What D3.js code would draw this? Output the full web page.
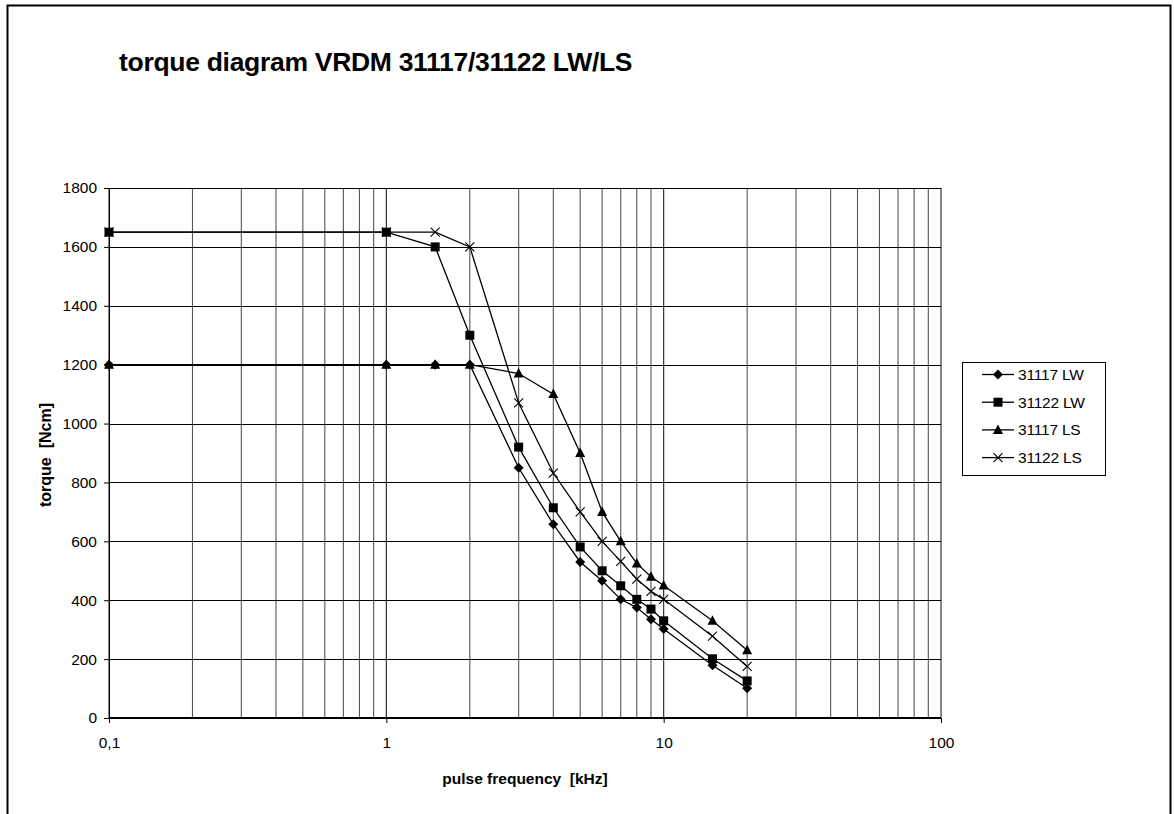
<!DOCTYPE html>
<html>
<head>
<meta charset="utf-8">
<script src="https://cdn.jsdelivr.net/npm/d3@7/dist/d3.min.js"></script>
<style>
  html, body { margin: 0; padding: 0; background: #fff; }
  svg { display: block; font-family: "Liberation Sans", Arial, sans-serif; }
  text { white-space: pre; }
</style>
</head>
<body>
<svg id="chart" width="1174" height="814"></svg>
<script>
// ---- data ----
const frequencies = [0.1, 1, 1.5, 2, 3, 4, 5, 6, 7, 8, 9, 10, 15, 20];
const seriesNames = ["31117 LW", "31122 LW", "31117 LS", "31122 LS"];
const torque31117LW = [1200, 1200, 1200, 1200, 850, 658, 530, 466, 403, 375, 335, 302, 179, 101];
const torque31122LW = [1650, 1650, 1600, 1300, 920, 714, 581, 500, 449, 403, 370, 330, 201, 126];
const torque31117LS = [1200, 1200, 1200, 1200, 1170, 1100, 900, 700, 600, 525, 480, 450, 330, 230];
const torque31122LS = [1650, 1650, 1650, 1600, 1070, 832, 700, 600, 532, 472, 430, 403, 278, 175];
const markerTypes = ["diamond", "square", "triangle", "cross"];
const yTicks = [0, 200, 400, 600, 800, 1000, 1200, 1400, 1600, 1800];
const xMajorTicks = [0.1, 1, 10, 100];
const xTickLabels = ["0,1", "1", "10", "100"];
const titleText = "torque diagram VRDM 31117/31122 LW/LS";
const xTitle = "pulse frequency  [kHz]";
const yTitle = "torque  [Ncm]";

const allSeries = [torque31117LW, torque31122LW, torque31117LS, torque31122LS];

// ---- layout ----
const svg = d3.select("#chart");
const W = 1174, H = 814;
const plot = { left: 109, right: 941, top: 188, bottom: 718 };

svg.append("rect").attr("width", W).attr("height", H).attr("fill", "#fff");
// outer frame (bottom edge cut off)
svg.append("rect")
  .attr("x", 7.5).attr("y", 5.5).attr("width", 1163).attr("height", 900)
  .attr("fill", "none").attr("stroke", "#000").attr("stroke-width", 2);

const x = d3.scaleLog().domain([0.1, 100]).range([plot.left, plot.right]);
const y = d3.scaleLinear().domain([0, 1800]).range([plot.bottom, plot.top]);

// title
svg.append("text")
  .attr("x", 119).attr("y", 71)
  .attr("font-size", 26.5).attr("font-weight", "bold")
  .attr("letter-spacing", -0.3)
  .text(titleText);

// vertical grid (every log subdivision)
const minorVals = [];
[0.1, 1, 10].forEach(d => { for (let k = 1; k <= 9; k++) minorVals.push(d * k); });
minorVals.push(100);
const gGrid = svg.append("g");
gGrid.selectAll("line.v").data(minorVals).enter().append("line")
  .attr("x1", d => x(d)).attr("x2", d => x(d))
  .attr("y1", plot.top).attr("y2", plot.bottom)
  .attr("stroke", d => (xMajorTicks.includes(d) ? "#222" : "#555"))
  .attr("stroke-width", 1.1);

// horizontal grid
gGrid.selectAll("line.h").data(yTicks).enter().append("line")
  .attr("x1", plot.left).attr("x2", plot.right)
  .attr("y1", d => Math.round(y(d)) + 0.5).attr("y2", d => Math.round(y(d)) + 0.5)
  .attr("stroke", "#000").attr("stroke-width", 1);

// y axis
const yAxis = d3.axisLeft(y).tickValues(yTicks).tickFormat(d3.format("d")).tickSize(5).tickPadding(7);
const gy = svg.append("g").attr("transform", `translate(${plot.left},0)`).call(yAxis);
gy.select(".domain").remove();
gy.selectAll(".tick line").attr("stroke", "#000");
gy.selectAll(".tick text").attr("font-size", 15.5).attr("font-family", "Liberation Sans, Arial, sans-serif").attr("fill", "#000");
svg.append("line").attr("x1", plot.left + 0.5).attr("x2", plot.left + 0.5)
  .attr("y1", plot.top).attr("y2", plot.bottom).attr("stroke", "#000").attr("stroke-width", 1);

// x axis
const xAxis = d3.axisBottom(x).tickValues(xMajorTicks)
  .tickFormat((d, i) => xTickLabels[i]).tickSize(5).tickPadding(14);
const gx = svg.append("g").attr("transform", `translate(0,${plot.bottom})`).call(xAxis);
gx.select(".domain").remove();
gx.selectAll(".tick line").attr("stroke", "#000");
gx.selectAll(".tick text").attr("font-size", 15.5).attr("font-family", "Liberation Sans, Arial, sans-serif").attr("fill", "#000");
svg.append("line").attr("x1", plot.left).attr("x2", plot.right)
  .attr("y1", plot.bottom).attr("y2", plot.bottom).attr("stroke", "#000").attr("stroke-width", 2);

// axis titles
svg.append("text")
  .attr("x", (plot.left + plot.right) / 2).attr("y", 784)
  .attr("text-anchor", "middle").attr("font-size", 15.5).attr("font-weight", "bold")
  .text(xTitle);
svg.append("text")
  .attr("transform", `translate(51,${(plot.top + plot.bottom) / 2 + 2}) rotate(-90)`)
  .attr("text-anchor", "middle").attr("font-size", 16).attr("font-weight", "bold")
  .text(yTitle);

// markers
function drawMarker(g, type, cx, cy) {
  if (type === "diamond") {
    g.append("path").attr("d", `M${cx},${cy - 5}L${cx + 5},${cy}L${cx},${cy + 5}L${cx - 5},${cy}Z`).attr("fill", "#000");
  } else if (type === "square") {
    g.append("rect").attr("x", cx - 4.5).attr("y", cy - 4.5).attr("width", 9).attr("height", 9).attr("fill", "#000");
  } else if (type === "triangle") {
    g.append("path").attr("d", `M${cx},${cy - 5.5}L${cx + 5},${cy + 4}L${cx - 5},${cy + 4}Z`).attr("fill", "#000");
  } else {
    g.append("path").attr("d", `M${cx - 4.5},${cy - 4.5}L${cx + 4.5},${cy + 4.5}M${cx - 4.5},${cy + 4.5}L${cx + 4.5},${cy - 4.5}`)
      .attr("stroke", "#000").attr("stroke-width", 1.1).attr("fill", "none");
  }
}

const line = d3.line().x(d => x(d[0])).y(d => y(d[1]));
const gSeries = svg.append("g");
allSeries.forEach((vals, i) => {
  const pts = frequencies.map((f, j) => [f, vals[j]]);
  gSeries.append("path").datum(pts).attr("d", line)
    .attr("fill", "none").attr("stroke", "#000").attr("stroke-width", 1.3);
});
allSeries.forEach((vals, i) => {
  const g = gSeries.append("g");
  frequencies.forEach((f, j) => drawMarker(g, markerTypes[i], x(f), y(vals[j])));
});

// legend
const lg = svg.append("g");
lg.append("rect").attr("x", 962.5).attr("y", 362.5).attr("width", 143).attr("height", 113)
  .attr("fill", "#fff").attr("stroke", "#000").attr("stroke-width", 1);
seriesNames.forEach((name, i) => {
  const cy = 374.5 + i * 27.7;
  lg.append("line").attr("x1", 982).attr("x2", 1014).attr("y1", cy).attr("y2", cy)
    .attr("stroke", "#000").attr("stroke-width", 1.3);
  drawMarker(lg, markerTypes[i], 998, cy);
  lg.append("text").attr("x", 1018).attr("y", cy + 5.5)
    .attr("font-size", 15.5).attr("letter-spacing", -0.2).text(name);
});
</script>
</body>
</html>
